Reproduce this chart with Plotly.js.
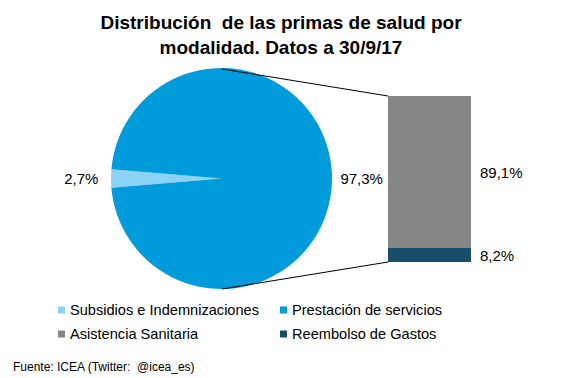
<!DOCTYPE html>
<html>
<head>
<meta charset="utf-8">
<script src="https://cdn.plot.ly/plotly-3.0.1.min.js"></script>
<style>html,body{margin:0;padding:0;background:#fff;}#chart{width:567px;height:378px;}</style>
</head>
<body>
<div id="chart"></div>
<script>
// Data
const pieLabels = ['Subsidios e Indemnizaciones', 'Prestación de servicios'];
const pieValues = [2.7, 97.3];
const barLabels = ['Reembolso de Gastos', 'Asistencia Sanitaria']; // bottom to top
const barValues = [8.2, 89.1];
const legendOrder = ['Subsidios e Indemnizaciones', 'Prestación de servicios', 'Asistencia Sanitaria', 'Reembolso de Gastos'];
const titleText = 'Distribución  de las primas de salud por<br>modalidad. Datos a 30/9/17';
const sourceText = 'Fuente: ICEA (Twitter:  @icea_es)';

// Styles
const colors = {
  'Subsidios e Indemnizaciones': '#8DD3F5',
  'Prestación de servicios': '#009BDB',
  'Asistencia Sanitaria': '#858784',
  'Reembolso de Gastos': '#194D6C'
};
const W = 567, H = 378;
const px = v => v / W, py = v => 1 - v / H;
const FONT = 'Arial, Liberation Sans, sans-serif';
const NB = '\u00A0';

const total = pieValues.reduce((a, b) => a + b, 0);
const barTotal = barValues.reduce((a, b) => a + b, 0);

const traces = [{
  type: 'pie',
  labels: pieLabels,
  values: pieValues,
  sort: false,
  direction: 'counterclockwise',
  // first slice spans clockwise from `rotation`; centre it at 9 o'clock
  rotation: 270 - (pieValues[0] / total) * 360 / 2,
  marker: {colors: pieLabels.map(l => colors[l]), line: {width: 0}},
  textinfo: 'percent',
  texttemplate: ['%{percent:.1%}' + NB + NB, NB + '%{percent:.1%}'],
  textposition: 'outside',
  outsidetextfont: {family: FONT, size: 15, color: '#000'},
  domain: {x: [px(111), px(332)], y: [py(289), py(68)]},
  hoverinfo: 'label+percent',
  showlegend: false
}];

const barCat = pieLabels[1];
barLabels.forEach((lab, i) => {
  traces.push({
    type: 'bar',
    x: [barCat],
    y: [barValues[i]],
    name: lab,
    marker: {color: colors[lab], line: {width: 0}},
    xaxis: 'x', yaxis: 'y',
    showlegend: false,
    hoverinfo: 'name+y'
  });
});

const annotations = [];
let cum = 0;
barValues.forEach((v, i) => {
  annotations.push({
    xref: 'x', yref: 'y', x: 0.5, y: cum + v / 2,
    xanchor: 'left', yanchor: 'middle', xshift: 7,
    text: v.toFixed(1).replace('.', ',') + '%',
    showarrow: false,
    font: {family: FONT, size: 15, color: '#000'}
  });
  cum += v;
});

// Custom legend (2 columns)
const shapes = [];
const legCols = [58, 280], legRows = [310, 334];
legendOrder.forEach((lab, i) => {
  const cx = legCols[i % 2], cy = legRows[Math.floor(i / 2)];
  shapes.push({type: 'rect', xref: 'paper', yref: 'paper',
    x0: px(cx), x1: px(cx + 7), y0: py(cy + 3.5), y1: py(cy - 3.5),
    fillcolor: colors[lab], line: {width: 0}});
  annotations.push({xref: 'paper', yref: 'paper', x: px(cx + 10), y: py(cy),
    xanchor: 'left', yanchor: 'middle', text: lab, showarrow: false,
    font: {family: FONT, size: 14.6, color: '#000'}});
});

// Source
annotations.push({xref: 'paper', yref: 'paper', x: px(11), y: py(367),
  xanchor: 'left', yanchor: 'middle', text: sourceText, showarrow: false,
  font: {family: FONT, size: 12, color: '#000'}});

// Connector lines
shapes.push({type: 'line', xref: 'paper', yref: 'paper', x0: px(222), y0: py(69), x1: px(388), y1: py(96), line: {color: '#000', width: 1}});
shapes.push({type: 'line', xref: 'paper', yref: 'paper', x0: px(222), y0: py(289), x1: px(388), y1: py(262), line: {color: '#000', width: 1}});

const layout = {
  width: W, height: H,
  margin: {l: 0, r: 0, t: 0, b: 0},
  paper_bgcolor: '#fff', plot_bgcolor: 'rgba(0,0,0,0)',
  separators: ',.',
  showlegend: false,
  title: {text: titleText, x: 281 / W, xanchor: 'center', y: 1 - 29 / H, yanchor: 'top', yref: 'container',
    font: {family: FONT, size: 19, color: '#000', weight: 'bold'}},
  barmode: 'stack', bargap: 0,
  xaxis: {domain: [px(388), px(471)], visible: false, type: 'category', range: [-0.5, 0.5], fixedrange: true},
  yaxis: {domain: [py(262), py(96)], visible: false, range: [0, barTotal], fixedrange: true},
  annotations: annotations,
  shapes: shapes
};

Plotly.newPlot('chart', traces, layout, {displayModeBar: false, staticPlot: true});
</script>
</body>
</html>
